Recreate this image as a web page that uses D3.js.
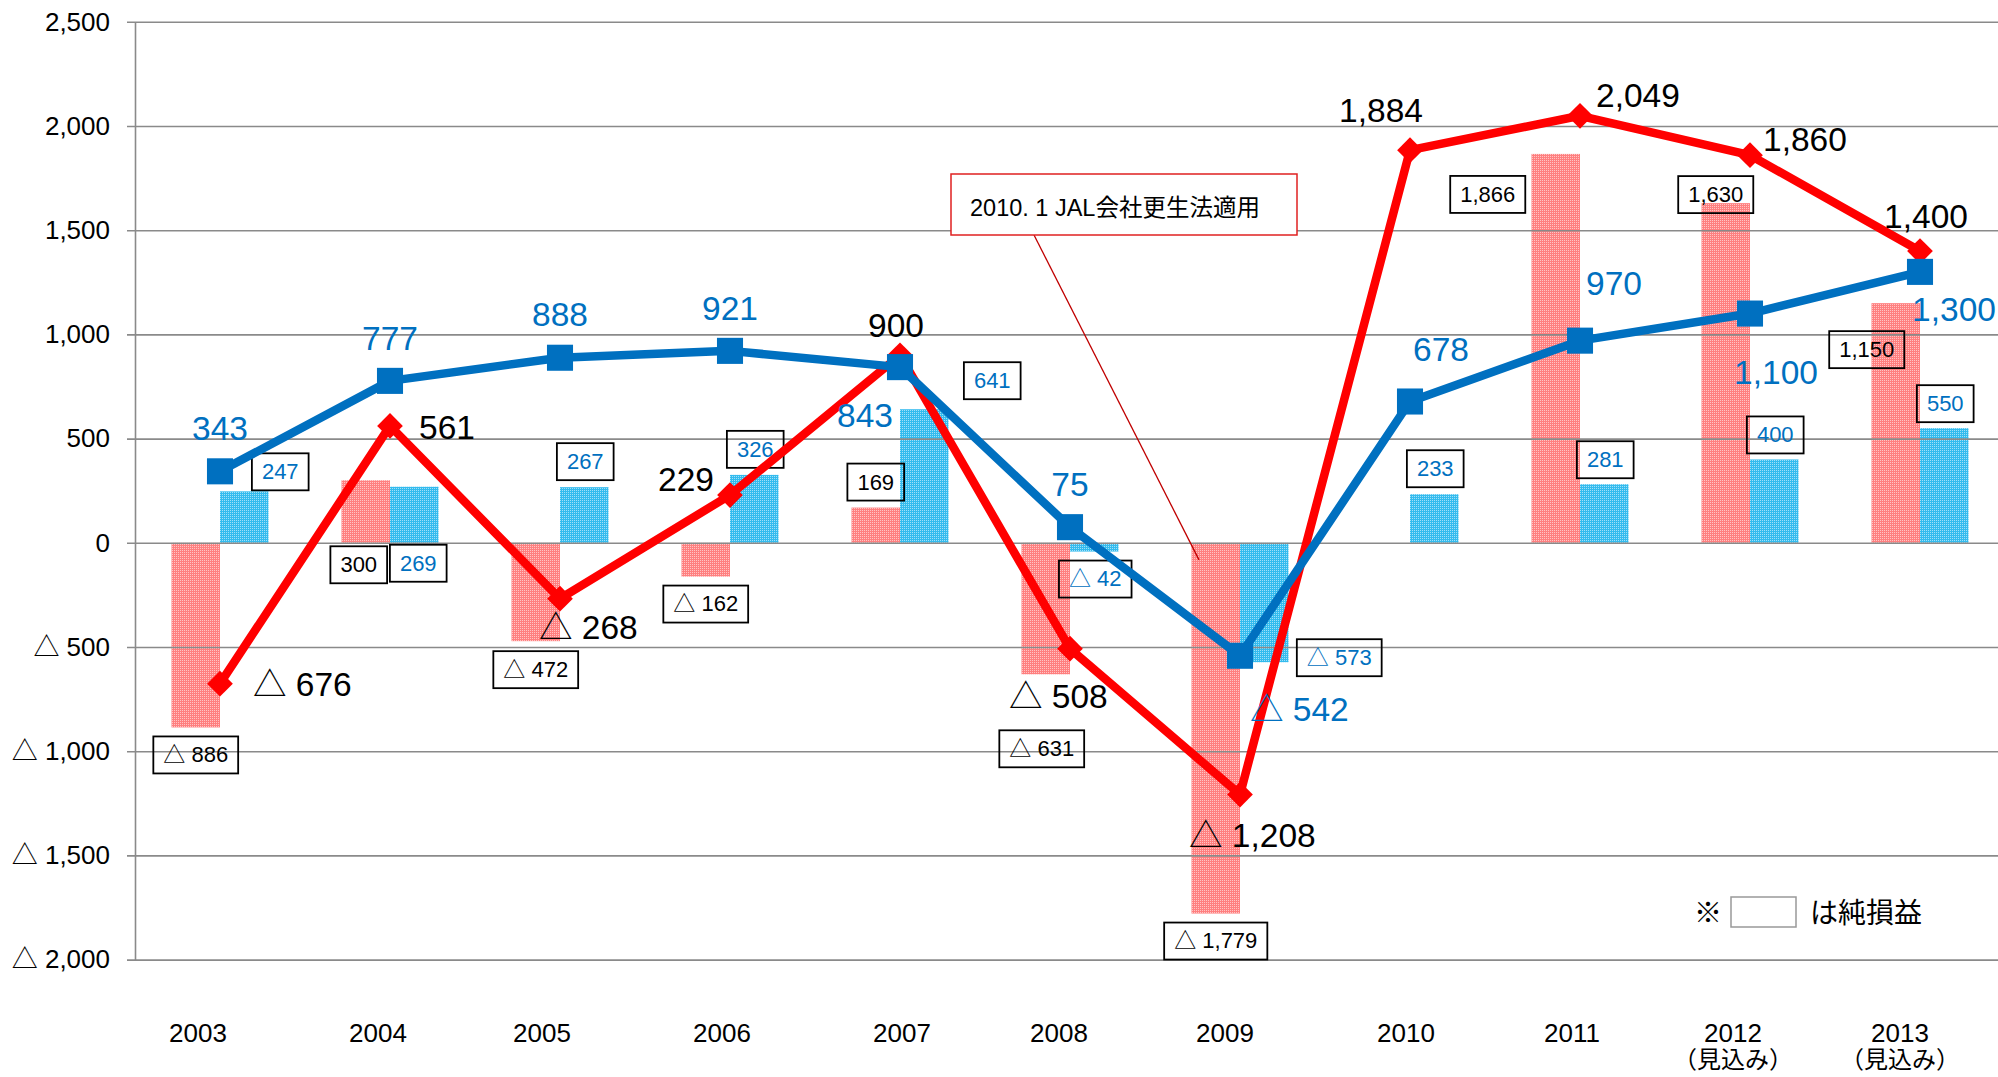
<!DOCTYPE html>
<html>
<head>
<meta charset="utf-8">
<script src="https://cdn.jsdelivr.net/npm/d3@7"></script>
<style>
  body { margin: 0; background: #fff; }
  text { font-family: "Liberation Sans", Arial, "Noto Sans CJK JP", sans-serif; }
</style>
</head>
<body>
<div id="chart"></div>
<script>
// data (億円)
const years = ["2003", "2004", "2005", "2006", "2007", "2008", "2009", "2010", "2011", "2012", "2013"];
const yearNotes = ["", "", "", "", "", "", "", "", "", "（見込み）", "（見込み）"];
const jalOperating = [-676, 561, -268, 229, 900, -508, -1208, 1884, 2049, 1860, 1400];
const jalNet = [-886, 300, -472, -162, 169, -631, -1779, null, 1866, 1630, 1150];
const anaOperating = [343, 777, 888, 921, 843, 75, -542, 678, 970, 1100, 1300];
const anaNet = [247, 269, 267, 326, 641, -42, -573, 233, 281, 400, 550];
const yTicks = [2500, 2000, 1500, 1000, 500, 0, -500, -1000, -1500, -2000];

// label placement (anchor, dx, dy) relative to the point / bar end
const jalOpPos = [["start", 33, 0], ["start", 29, 1], ["start", -21, 28], ["end", -16, -16], ["middle", -4, -30],
  ["start", -61, 47], ["start", -51, 40], ["middle", -29, -40], ["start", 16, -21], ["start", 13, -16], ["middle", 6, -35]];
const anaOpPos = [["middle", 0, -43], ["middle", 0, -43], ["middle", 0, -44], ["middle", 0, -43], ["middle", -35, 48],
  ["middle", 0, -43], ["start", 10, 53], ["middle", 31, -53], ["middle", 34, -58], ["middle", 26, 58], ["middle", 34, 37]];
const jalNetPos = [[0, 27], [-7, 84], [0, 28], [0, 27], [0, -26], [-4, 74], [0, 27], null, [-68, 40], [-10, -9], [-29, 46]];
const anaNetPos = [[36, -20], [4, 76], [1, -26], [1, -26], [68, -29], [1, 27], [75, -5], [1, -26], [1, -25], [1, -25], [1, -25]];
const tickNudge = [-22, -12, -18, -8, 2, -11, -15, -4, -8, -17, -20];

const W = 1998, H = 1077;
const red = "#ff0000", blue = "#0070c0", grid = "#8a8a8a";
const fmt = v => (v < 0 ? "△ " : "") + d3.format(",")(Math.abs(v));

const svg = d3.select("#chart").append("svg")
  .attr("width", W).attr("height", H);

/* patterns for the dotted bars */
const defs = svg.append("defs");
function dots(id, base, light) {
  const p = defs.append("pattern").attr("id", id)
    .attr("width", 2).attr("height", 2).attr("patternUnits", "userSpaceOnUse");
  p.append("rect").attr("width", 2).attr("height", 2).attr("fill", base);
  p.append("rect").attr("width", 1).attr("height", 1).attr("fill", light);
}
dots("jalFill", "#ff7f7f", "#ffc4c4");
dots("anaFill", "#33bbee", "#a0e0f8");

/* scales */
const x = d3.scaleBand().domain(years).range([135, 2005]);
const y = d3.scaleLinear().domain([-2000, 2500]).range([959.6, 21.8]);
const mid = d => x(d) + x.bandwidth() / 2;
const barW = 48.5;
const sub = d3.scaleBand().domain(["jal", "ana"]).range([-barW, barW]);

const rows = (vals) => years.map((yr, i) => ({yr, i, v: vals[i]})).filter(d => d.v != null);

/* bars */
function bars(vals, key, fill) {
  svg.append("g").selectAll("rect")
    .data(rows(vals))
    .enter().append("rect")
    .attr("x", d => mid(d.yr) + sub(key))
    .attr("width", sub.bandwidth())
    .attr("y", d => y(Math.max(0, d.v)))
    .attr("height", d => Math.abs(y(d.v) - y(0)))
    .attr("fill", fill);
}
bars(jalNet, "jal", "url(#jalFill)");
bars(anaNet, "ana", "url(#anaFill)");

/* y axis + grid */
const yAxis = d3.axisLeft(y)
  .tickValues(yTicks)
  .tickFormat(fmt)
  .tickSizeOuter(0)
  .tickSizeInner(-(W - 135))
  .tickPadding(25);
svg.append("g")
  .attr("transform", "translate(135,0)")
  .call(yAxis)
  .call(g => g.select(".domain").attr("stroke", grid).attr("stroke-width", 1.6))
  .call(g => g.selectAll(".tick line").attr("x1", -8).attr("stroke", grid).attr("stroke-width", 1.6))
  .call(g => g.selectAll(".tick text")
    .attr("font-family", null)
    .attr("font-size", 26).attr("fill", "#000"));

/* x labels */
const xl = svg.append("g").selectAll("g")
  .data(years)
  .enter().append("g")
  .attr("transform", (d, i) => "translate(" + (mid(d) + tickNudge[i]) + ",0)");
xl.append("text")
  .attr("y", 1033).attr("dy", "0.36em")
  .attr("text-anchor", "middle").attr("font-size", 26)
  .text(d => d);
xl.append("text")
  .attr("y", 1059).attr("dy", "0.36em")
  .attr("text-anchor", "middle").attr("font-size", 24)
  .text((d, i) => yearNotes[i]);

/* callout */
svg.append("line")
  .attr("x1", 1034).attr("y1", 235)
  .attr("x2", mid("2009") - 41).attr("y2", y(-82))
  .attr("stroke", "#c00000").attr("stroke-width", 1.3);
svg.append("rect")
  .attr("x", 951).attr("y", 174).attr("width", 346).attr("height", 61)
  .attr("fill", "#fff").attr("stroke", "#e02020").attr("stroke-width", 1.5);
svg.append("text")
  .attr("x", 970).attr("y", 208).attr("dy", "0.36em")
  .attr("font-size", 23.5)
  .text("2010. 1 JAL会社更生法適用");

/* boxed net-profit labels */
function boxLabels(vals, key, pos, color) {
  const g = svg.append("g").selectAll("g")
    .data(rows(vals))
    .enter().append("g")
    .attr("transform", d => "translate(" + (mid(d.yr) + sub(key) + barW / 2 + pos[d.i][0]) + "," + (y(d.v) + pos[d.i][1]) + ")");
  g.append("text")
    .attr("text-anchor", "middle").attr("dy", "0.36em")
    .attr("font-size", 22).attr("fill", color)
    .text(d => fmt(d.v));
  g.each(function() {
    const t = d3.select(this).select("text").node().getBBox();
    d3.select(this).insert("rect", "text")
      .attr("x", t.x - 10).attr("y", -18)
      .attr("width", t.width + 20).attr("height", 37)
      .attr("fill", "none").attr("stroke", "#000").attr("stroke-width", 1.8);
  });
}
boxLabels(jalNet, "jal", jalNetPos, "#000");
boxLabels(anaNet, "ana", anaNetPos, blue);

/* lines */
const line = d3.line().x(d => mid(d.yr)).y(d => y(d.v));
function series(vals, color, sym, size, rot) {
  svg.append("path")
    .datum(rows(vals))
    .attr("d", line)
    .attr("fill", "none").attr("stroke", color)
    .attr("stroke-width", 8.5).attr("stroke-linejoin", "round");
  svg.append("g").selectAll("path")
    .data(rows(vals))
    .enter().append("path")
    .attr("d", d3.symbol().type(sym).size(size))
    .attr("transform", d => "translate(" + mid(d.yr) + "," + y(d.v) + ") rotate(" + rot + ")")
    .attr("fill", color);
}
series(jalOperating, red, d3.symbolSquare, 330, 45);
series(anaOperating, blue, d3.symbolSquare, 680, 0);

/* operating profit labels */
function opLabels(vals, pos, color) {
  svg.append("g").selectAll("text")
    .data(rows(vals))
    .enter().append("text")
    .attr("x", d => mid(d.yr) + pos[d.i][1])
    .attr("y", d => y(d.v) + pos[d.i][2])
    .attr("dy", "0.36em")
    .attr("text-anchor", d => pos[d.i][0])
    .attr("font-size", 33.5).attr("fill", color)
    .text(d => fmt(d.v));
}
opLabels(jalOperating, jalOpPos, "#000");
opLabels(anaOperating, anaOpPos, blue);

/* note: boxes are net profit */
const note = svg.append("g");
note.append("text").attr("x", 1694).attr("y", 913).attr("dy", "0.36em")
  .attr("font-size", 28).text("※");
note.append("rect").attr("x", 1731).attr("y", 897).attr("width", 65).attr("height", 30)
  .attr("fill", "#fff").attr("stroke", "#999").attr("stroke-width", 1.5);
note.append("text").attr("x", 1810).attr("y", 913).attr("dy", "0.36em")
  .attr("font-size", 28).text("は純損益");
</script>
</body>
</html>
